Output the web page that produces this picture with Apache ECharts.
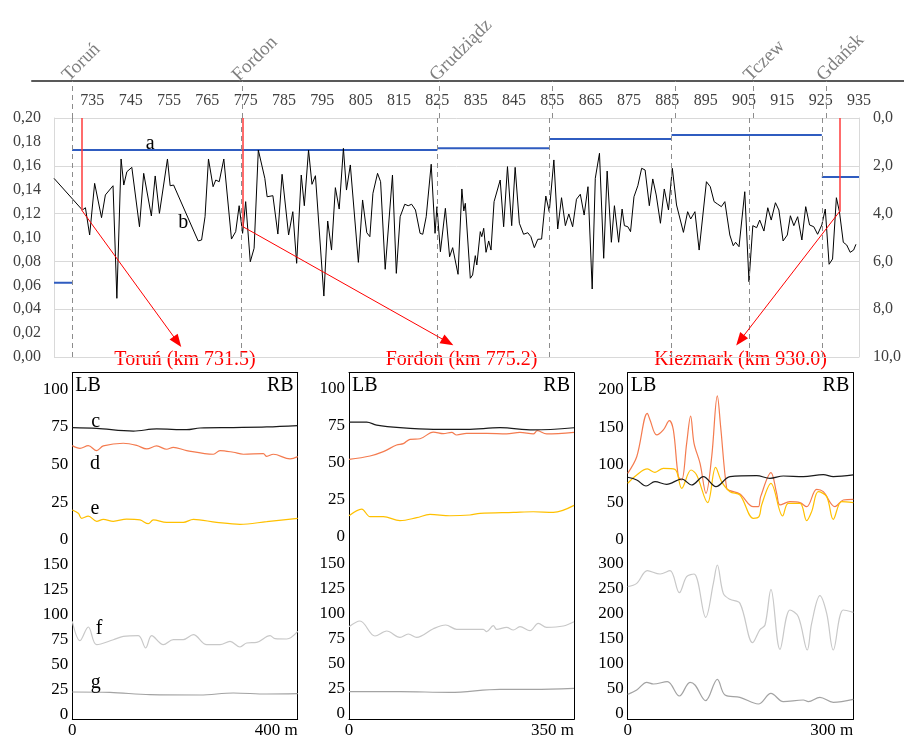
<!DOCTYPE html>
<html><head><meta charset="utf-8">
<script src="https://cdn.jsdelivr.net/npm/echarts@6/dist/echarts.min.js"></script>
<style>html,body{margin:0;padding:0;background:#fff}#c{width:904px;height:740px}</style>
</head><body><div id="c"></div>
<script>
const FONT = '"Liberation Serif","Times New Roman",serif';

// ---------- top chart data ----------
const kmTicks = [735,745,755,765,775,785,795,805,815,825,835,845,855,865,875,885,895,905,915,925,935];
const cityNames = ['Toruń','Fordon','Grudziądz','Tczew','Gdańsk'];
const cityKm = [729.7, 773.8, 825.0, 906.4, 925.3];
const dashKm = [729.7, 773.8, 825.0, 854.3, 886.1, 906.4, 925.3];
const aBreaks = [725, 729.7, 825.0, 854.3, 886.1, 925.3, 935];
const aValues = [0.0622, 0.1732, 0.1746, 0.1824, 0.1858, 0.1506];
const bSeries = [
[725,0.1495],[732.4,0.123],[733.2,0.1249],[734.3,0.1021],[735.6,0.1453],[737.4,0.1166],[738.4,0.1356],[740.4,0.1433],
[741.4,0.0491],[742.5,0.1657],[743.2,0.1439],[744.0,0.155],[745.3,0.1587],[747.3,0.109],[748.4,0.1537],[750.4,0.118],
[751.4,0.1515],[752.5,0.1202],[754.6,0.1657],[755.3,0.1433],[756.2,0.1439],[762.6,0.0971],[763.5,0.0979],[764.4,0.1174],
[765.3,0.1657],[766.5,0.1425],[767.2,0.1481],[768.1,0.1467],[769.3,0.1657],[771.3,0.0987],[772.4,0.1049],[773.3,0.1266],
[774.2,0.1035],[775.0,0.130],[776.2,0.0797],[777.2,0.091],[778.3,0.1732],[780.0,0.1495],[780.6,0.1341],[782.1,0.135],
[783.4,0.1029],[784.5,0.1529],[786.2,0.1021],[787.3,0.1216],[788.3,0.0784],[789.5,0.1523],[790.3,0.1266],[791.4,0.1732],
[792.3,0.1445],[793.2,0.1517],[795.4,0.051],[796.4,0.1138],[797.4,0.0895],[798.4,0.1417],[799.4,0.1238],[800.5,0.1746],
[801.3,0.1397],[802.3,0.1607],[804.4,0.0792],[805.5,0.1314],[806.6,0.104],[807.4,0.1007],[808.2,0.137],[809.4,0.1537],
[810.2,0.1467],[811.4,0.0734],[813.3,0.1523],[814.3,0.07],[815.3,0.1174],[816.5,0.1278],[817.4,0.1266],[818.3,0.1278],
[819.3,0.123],[820.5,0.1035],[821.2,0.1027],[822.1,0.1174],[823.4,0.1613],[824.4,0.1035],[824.9,0.1258],[825.8,0.0881],
[827.1,0.1244],[828.2,0.0839],[829.0,0.0915],[830.4,0.0692],[831.4,0.1406],[831.9,0.1222],[832.3,0.1286],[833.6,0.0659],
[834.2,0.0686],[834.9,0.0848],[835.3,0.077],[836.2,0.1049],[836.6,0.1007],[837.1,0.1077],[837.7,0.0876],[838.4,0.0971],
[839.0,0.0895],[839.8,0.13],[841.4,0.1481],[842.3,0.109],[843.3,0.1593],[844.4,0.1099],[845.3,0.1587],[846.4,0.1119],
[847.5,0.1027],[848.6,0.104],[849.4,0.1007],[850.3,0.0915],[851.2,0.0985],[852.2,0.0987],[853.3,0.1347],[854.2,0.1216],
[855.4,0.1649],[856.4,0.1071],[857.4,0.1333],[858.4,0.1099],[859.3,0.1197],[860.3,0.109],[861.3,0.132],[862.3,0.1362],
[863.3,0.1188],[864.3,0.1425],[865.4,0.0569],[866.2,0.1495],[867.3,0.1705],[868.4,0.0826],[869.3,0.1556],[870.4,0.096],
[871.2,0.1266],[872.3,0.096],[873.2,0.1238],[873.8,0.1099],[874.7,0.109],[875.4,0.1049],[876.3,0.1341],[877.3,0.1433],
[878.3,0.1579],[879.2,0.1565],[880.3,0.1266],[881.2,0.149],[882.1,0.1356],[883.2,0.1119],[884.2,0.1406],[885.3,0.123],
[886.3,0.1579],[887.4,0.1272],[889.2,0.1043],[890.3,0.1216],[891.1,0.1155],[892.2,0.1216],[893.3,0.0895],[895.2,0.1467],
[896.2,0.1425],[897.2,0.13],[898.1,0.128],[899.1,0.1258],[900.0,0.13],[901.3,0.1021],[902.2,0.0931],[902.8,0.096],
[903.7,0.0923],[905.2,0.1383],[906.3,0.063],[907.3,0.1099],[908.3,0.1082],[909.1,0.1146],[910.2,0.1054],[911.2,0.1249],
[912.1,0.1146],[913.2,0.1291],[914.1,0.123],[915.2,0.0971],[916.3,0.1021],[917.1,0.1182],[918.0,0.1099],[919.0,0.1174],
[920.1,0.0979],[921.1,0.1258],[922.1,0.1105],[923.2,0.109],[924.2,0.1027],[925.3,0.1105],[926.2,0.1238],[927.2,0.0776],
[928.1,0.082],[929.1,0.1333],[929.9,0.1216],[930.9,0.096],[931.8,0.0937],[932.7,0.0876],[933.6,0.0895],[934.2,0.0943]
];
const siteKm = [732.2, 774.3, 929.9];
const siteB = [0.123, 0.109, 0.1216];
const arrowEnd = [[757.2, 0.0127], [827.7, 0.0125], [904.0, 0.014]];
const siteTitles = ['Toruń (km 731.5)', 'Fordon (km 775.2)', 'Kiezmark (km 930.0)'];
const labelA = [750.1, 0.1788];
const labelB = [758.7, 0.1124];

// ---------- cross-section panels ----------
const xMax = [400, 350, 300];
const upperRange = [[0, 111], [-2, 110.5], [0, 223]];
const lowerRange = [[-4.6, 174.7], [-6, 173.3], [-10.6, 348]];
const upperTicks = [[0,25,50,75,100],[0,25,50,75,100],[0,50,100,150,200]];
const lowerTicks = [[0,25,50,75,100,125,150],[0,25,50,75,100,125,150],[0,50,100,150,200,250,300]];

const p1c = [[0,74.6],[43.2,74.1],[108.3,72.3],[149.7,73.7],[203,73.2],[226.6,74.3],[285.8,74.6],[345,75],[400,75.9]];
const p1d = [[0,62.6],[13.6,60.8],[28.4,62.6],[43.2,59.3],[55,62.4],[90.5,64.2],[114.2,62.8],[132,60.4],[149.7,62.4],[167.4,60.2],[179.3,61.5],[203,59.3],[250.3,56.9],[262.1,59.3],[285.8,58.2],[303.5,56.9],[339,57.3],[345,55.5],[356.8,56.9],[386.4,53.8],[400,55.3]];
const p1e = [[0,19.9],[10.7,17.7],[16.6,14.4],[28.4,15.9],[43.2,12.4],[55,13.7],[72.8,12.4],[96.4,13.9],[120.1,13.3],[134.9,10.8],[143.8,13.3],[167.4,11.7],[197,11.7],[214.8,13.7],[256.2,11.7],[297.6,10.4],[345,12.2],[400,14.4]];
const p1f = [[0,93.3],[13.6,74],[28.4,87.7],[43.2,70],[72.8,75],[90.5,78.3],[117.2,79],[130.2,66.7],[140.8,79],[161.5,70],[179.3,75],[197,75],[214.8,80],[238.5,70],[262.1,70],[279.9,73.3],[297.6,67.7],[309.5,71.7],[327.2,72.3],[350.9,79],[359.8,76],[380.5,75.7],[400,83.3]];
const p1g = [[0,22.7],[66.9,22.3],[137.9,20],[226.6,19.7],[285.8,21.7],[345,20.7],[400,21]];

const p2c = [[0,77.3],[27.5,77.3],[43,75.3],[79.3,73.5],[131.2,72.4],[183,72.4],[234.9,73.5],[286.7,72],[350,73.5]];
const p2d = [[0,52.2],[32.7,54.5],[53.4,57.4],[74.1,61.9],[84.5,62.8],[94.9,65.7],[110.4,66.1],[131.2,70.6],[146.7,69.5],[159.7,70.4],[167.5,68.6],[183,69.7],[214.1,69.7],[245.2,69.3],[265.9,70.4],[286.7,69.3],[292.9,71.5],[307.4,69.3],[350,70.4]];
const p2e = [[0,14.3],[19.7,18.8],[32.7,13.7],[53.4,13.7],[79.3,11],[105.3,13],[126,15.2],[157.1,14.3],[188.2,14.8],[203.8,15.9],[255.6,16.6],[286.7,17],[317.8,16.6],[350,21.3]];
const p2f = [[0,86.6],[17.1,92.3],[40.4,77.3],[58.6,82.3],[79.3,76],[92.3,79.3],[105.3,76],[131.2,84.6],[150.4,88.3],[167.5,84],[209,84],[214.1,81.6],[224.5,87.6],[229.7,84],[245.2,86],[255.6,83.3],[265.9,86.6],[281.5,82.6],[294.5,90],[307.4,86],[333.4,87.3],[350,91.6]];
const p2g = [[0,21.6],[79.3,21.6],[157.1,21],[234.9,24],[286.7,24],[350,25]];

const p3c = [[0,83.6],[12,80],[24.4,72],[36.3,77.8],[51.8,74.2],[71.8,81.3],[85.1,73.3],[100.6,84.4],[117.4,71.1],[136,84.4],[171.5,85.8],[189.2,82.2],[206.9,85.3],[233.5,84.4],[260.1,87.1],[273.4,84.4],[300,86.7]];
const p3d = [[0,88.9],[12,111],[26.1,168.9],[29.7,160],[38.5,140],[47.4,146.7],[55.4,159],[60.7,146.7],[67.4,84.4],[71.8,80],[78.4,128.9],[83.7,165.3],[88.2,128.9],[96.2,102.2],[104.1,62.2],[111.7,111],[119.2,192],[123.6,151],[131.6,68.9],[136,65.8],[149.3,61.3],[167,44.4],[173.7,44.4],[176.8,57.8],[190.5,89.8],[198.1,62.2],[202.6,46.7],[215.8,51.1],[229.1,49.8],[238,44.4],[251.3,67.6],[260.1,64.4],[275.6,44.4],[286.7,53.3],[300,54.2]];
const p3e = [[0,75.6],[12,86.7],[26.1,94.7],[36.3,90.2],[47.4,95.6],[62.9,94.2],[71.8,68.9],[84.2,93.3],[91.7,86.7],[106.3,49.8],[116.9,96.9],[124.9,77.8],[136,64.4],[149.3,60],[167,28.9],[174.6,31.1],[178.1,46.7],[190.5,75.6],[206,32],[213.5,48.9],[229.1,48.9],[238,25.8],[244.6,37.8],[253.5,64.4],[264.6,57.8],[273.4,27.6],[284.5,51.1],[300,49.8]];
const p3f = [[0,254.7],[12,261.3],[26.1,286.7],[43,280],[56.3,286.7],[68.7,242.7],[78.4,274.7],[88.2,280],[103.7,193.3],[113.9,261.3],[119.2,298],[127.1,241.3],[136,229.3],[149.3,221.3],[166.2,142.7],[175.9,168.7],[182.6,178],[190.5,249.3],[202.5,129.3],[215.8,208],[226.9,194.7],[238.8,128],[244.6,181.3],[255.6,236.7],[264.6,201.3],[273.4,128],[286.7,208],[300,203.3]];
const p3g = [[0,39.3],[12,48],[25.3,63.3],[34.1,60],[52.7,64.7],[68.7,36],[82.9,63.3],[89.5,58],[103.7,26.7],[119.2,69.3],[129.4,38],[149.3,33.3],[173.7,20],[190.5,41.3],[206.9,24.7],[233.5,28],[240.2,24.7],[255.6,33.3],[273.4,23.3],[300,29.3]];
const panelLetters = [['c', [41.5, 78.5]], ['d', [40.3, 50.9]], ['e', [40.3, 21.0]], ['f', [47.4, 85.7]], ['g', [41.5, 32.3]]];

const COL = {c:'#1a1a1a', d:'#f47b4f', e:'#ffc000', f:'#c8c8c8', g:'#a3a3a3'};

// ---------- layout ----------
const PX = [72.3, 349, 627.7], PW = [225.4, 225, 225.6];
const UT = 372.7, MID = 540, BOT = 719.3;

const grid = [
  {left:54, top:118, width:810, height:239},
  {left:54, top:81, width:810, height:37},
  {left:32, top:81, width:872, height:1}
];
for (let p = 0; p < 3; p++) {
  grid.push({left:PX[p], top:UT, width:PW[p], height:MID-UT});
  grid.push({left:PX[p], top:MID, width:PW[p], height:BOT-MID});
}
const off = {show:false};
const comma = (v, d) => v.toFixed(d).replace('.', ',');

const xAxis = [
  {type:'value', gridIndex:0, position:'top', min:725, max:935, axisLine:off, axisTick:off, splitLine:off,
   axisLabel:{customValues:kmTicks, margin:9.5, fontSize:16, fontFamily:FONT, color:'#404040'}},
  {type:'value', gridIndex:1, position:'top', min:725, max:935, offset:-4, axisLine:off, axisTick:off, splitLine:off,
   axisLabel:{customValues:cityKm, rotate:45, verticalAlign:'bottom', margin:0, fontSize:19, fontFamily:FONT, color:'#808080',
     formatter:v => { const i = cityKm.findIndex(k => Math.abs(k - v) < 0.01); return i >= 0 ? cityNames[i] : ''; }}},
  {type:'value', gridIndex:2, position:'top', min:0, max:1, axisLine:{show:true, onZero:false, lineStyle:{color:'#595959', width:2}},
   axisTick:off, axisLabel:off, splitLine:off}
];
const yAxis = [
  {type:'value', gridIndex:0, position:'left', min:0, max:0.2, interval:0.02,
   axisLine:{show:true, onZero:false, lineStyle:{color:'#d9d9d9'}}, axisTick:off, splitLine:off,
   axisLabel:{formatter:v => comma(v, 2), margin:13, fontSize:16, fontFamily:FONT, color:'#404040'}},
  {type:'value', gridIndex:0, position:'right', min:0, max:10, interval:2, inverse:true,
   axisLine:{show:true, onZero:false, lineStyle:{color:'#d9d9d9'}}, axisTick:off,
   splitLine:{show:true, lineStyle:{color:'#d9d9d9', width:1}},
   axisLabel:{formatter:v => comma(v, 1), margin:14, fontSize:16, fontFamily:FONT, color:'#404040'}},
  {type:'value', gridIndex:1, min:0, max:1, show:false},
  {type:'value', gridIndex:2, min:0, max:1, show:false}
];
const frame = {show:true, onZero:false, lineStyle:{color:'#000', width:1}};
for (let p = 0; p < 3; p++) {
  const gu = 3 + 2*p, gl = 4 + 2*p;
  xAxis.push({type:'value', gridIndex:gu, position:'top', min:0, max:xMax[p], axisLine:frame, axisTick:off, axisLabel:off, splitLine:off});
  xAxis.push({type:'value', gridIndex:gl, position:'bottom', min:0, max:xMax[p], axisLine:frame, axisTick:off, splitLine:off,
    axisLabel:{customValues:[0, xMax[p]], formatter:v => v === 0 ? '0' : v + ' m', alignMaxLabel:'right', margin:3, fontSize:17, fontFamily:FONT, color:'#000'}});
  const lab = ticks => ({customValues:ticks, margin:4, fontSize:17, fontFamily:FONT, color:'#000'});
  yAxis.push({type:'value', gridIndex:gu, position:'left', min:upperRange[p][0], max:upperRange[p][1], axisLine:frame, axisTick:off, splitLine:off, axisLabel:lab(upperTicks[p])});
  yAxis.push({type:'value', gridIndex:gu, position:'right', min:upperRange[p][0], max:upperRange[p][1], axisLine:frame, axisTick:off, splitLine:off, axisLabel:off});
  yAxis.push({type:'value', gridIndex:gl, position:'left', min:lowerRange[p][0], max:lowerRange[p][1], axisLine:frame, axisTick:off, splitLine:off, axisLabel:lab(lowerTicks[p])});
  yAxis.push({type:'value', gridIndex:gl, position:'right', min:lowerRange[p][0], max:lowerRange[p][1], axisLine:frame, axisTick:off, splitLine:off, axisLabel:off});
}

function letter(txt, coord) {
  return {symbol:'circle', symbolSize:1, itemStyle:{color:'rgba(0,0,0,0)'}, silent:true,
    label:{show:true, position:'inside', formatter:txt, color:'#000', fontSize:20, fontFamily:FONT},
    data:[{coord:coord}]};
}

// blue step data with breaks
const aData = [];
aValues.forEach((v, i) => {
  aData.push([aBreaks[i], v], [aBreaks[i+1], v]);
  if (i < aValues.length - 1) aData.push([aBreaks[i+1], '-']);
});

const dashLine = {silent:true, symbol:'none', label:off, lineStyle:{color:'#8c8c8c', type:[5,4], width:1},
  data: dashKm.map(k => ({xAxis:k}))};

const redLines = [];
siteKm.forEach((k, i) => {
  redLines.push([{coord:[k, 0.2], symbol:'none', lineStyle:{color:'#ff3b3b', width:1.5, type:'solid'}}, {coord:[k, siteB[i]], symbol:'none'}]);
  redLines.push([{coord:[k, siteB[i]], symbol:'none', lineStyle:{color:'#ff0000', width:1, type:'solid'}}, {coord:arrowEnd[i], symbol:'triangle', symbolSize:[10,13]}]);
});

const series = [
  {type:'line', xAxisIndex:0, yAxisIndex:0, data:aData, symbol:'none', connectNulls:false,
   lineStyle:{color:'#2f5cc0', width:2}, markLine:dashLine, markPoint:letter('a', labelA)},
  {type:'line', xAxisIndex:0, yAxisIndex:0, data:bSeries, symbol:'none',
   lineStyle:{color:'#000', width:1}, markPoint:letter('b', labelB),
   markLine:{silent:true, label:off, symbol:'none', itemStyle:{color:'#ff0000'}, data:redLines}},
  {type:'line', xAxisIndex:1, yAxisIndex:2, data:[], symbol:'none', markLine:dashLine}
];

const panels = [
  {c:p1c, d:p1d, e:p1e, f:p1f, g:p1g},
  {c:p2c, d:p2d, e:p2e, f:p2f, g:p2g},
  {c:p3c, d:p3d, e:p3e, f:p3f, g:p3g}
];
panels.forEach((pd, p) => {
  ['c','d','e','f','g'].forEach(k => {
    const upper = (k === 'c' || k === 'd' || k === 'e');
    const s = {type:'line', xAxisIndex: upper ? 3 + 2*p : 4 + 2*p, yAxisIndex: upper ? 4 + 4*p : 6 + 4*p,
      data: pd[k], symbol:'none', smooth:0.35, lineStyle:{color:COL[k], width:1.2}, z: k === 'c' ? 3 : 2};
    if (p === 0) {
      const L = panelLetters.find(x => x[0] === k);
      s.markPoint = letter(L[0], L[1]);
    }
    series.push(s);
  });
});

// text annotations
const graphic = [];
for (let p = 0; p < 3; p++) {
  const cx = PX[p] + PW[p] / 2;
  graphic.push({type:'text', x:cx, y:360, silent:true,
    style:{text:siteTitles[p], fill:'#ff0000', font:'20px ' + FONT, textAlign:'center', textVerticalAlign:'middle', align:'center', verticalAlign:'middle'}});
  graphic.push({type:'text', x:PX[p] + 3, y:386, silent:true,
    style:{text:'LB', fill:'#000', font:'20px ' + FONT, textAlign:'left', textVerticalAlign:'middle', align:'left', verticalAlign:'middle'}});
  graphic.push({type:'text', x:PX[p] + PW[p] - 4, y:386, silent:true,
    style:{text:'RB', fill:'#000', font:'20px ' + FONT, textAlign:'right', textVerticalAlign:'middle', align:'right', verticalAlign:'middle'}});
}

const chart = echarts.init(document.getElementById('c'));
chart.setOption({animation:false, backgroundColor:'#fff', grid, xAxis, yAxis, series, graphic});
</script></body></html>
